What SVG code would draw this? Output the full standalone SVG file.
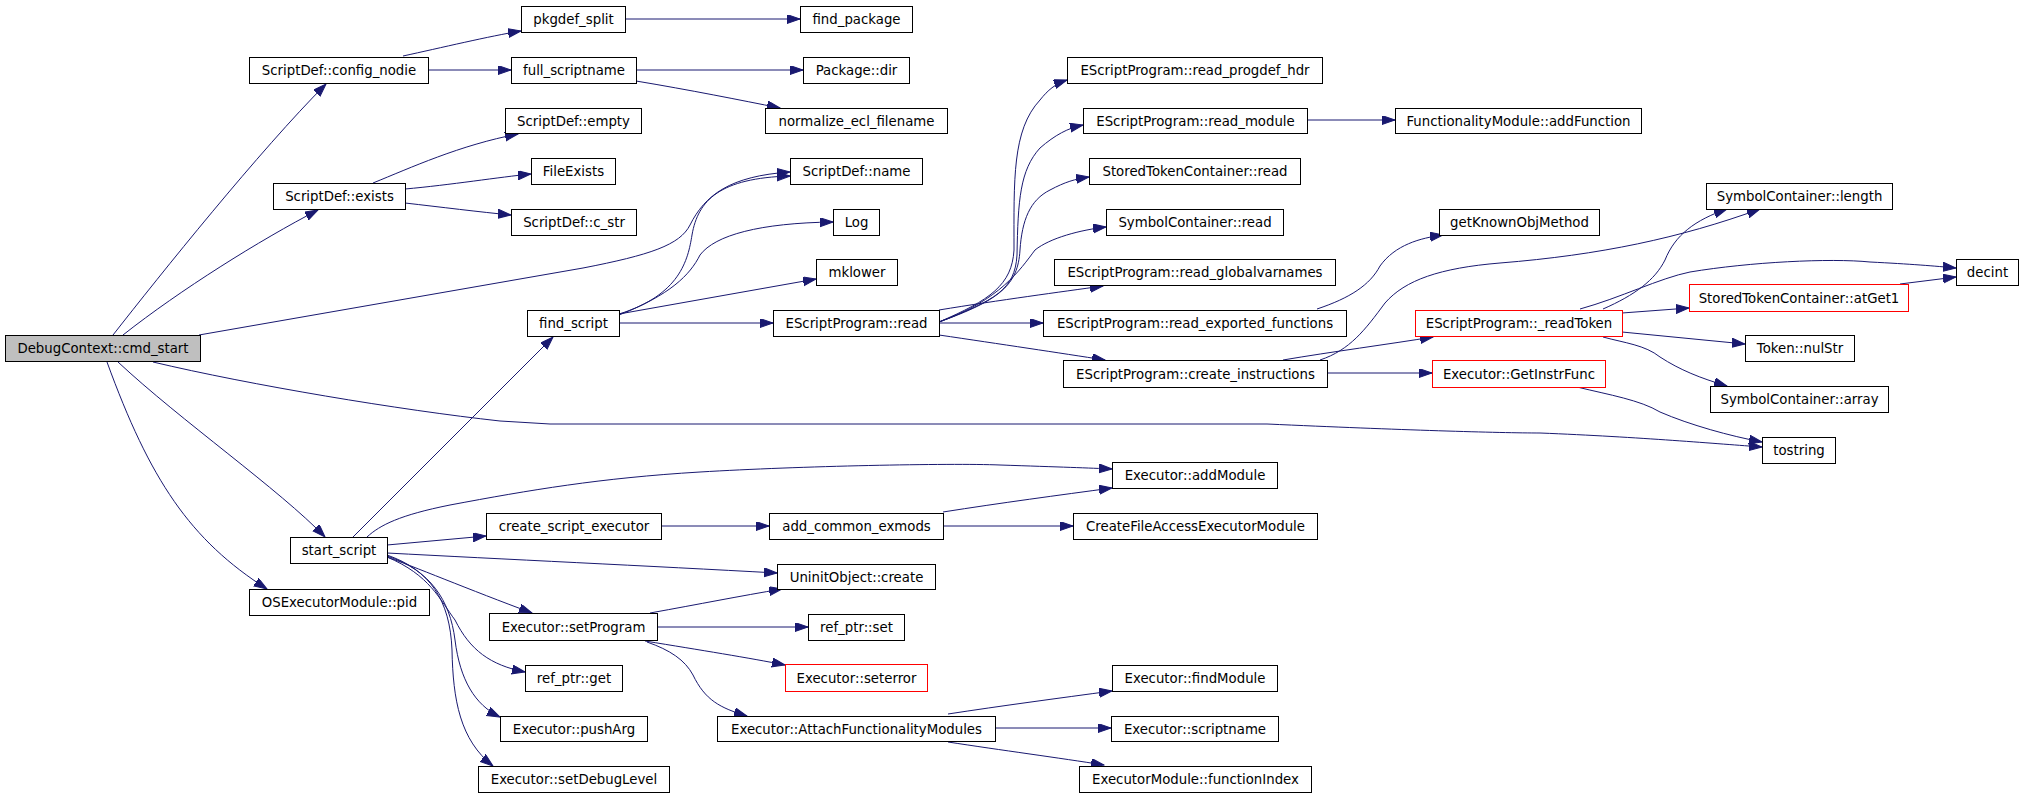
<svg xmlns="http://www.w3.org/2000/svg" width="2037" height="797" viewBox="0 0 2037 797">
<style>
.n rect{fill:#fff;stroke:#000;stroke-width:1}
.r rect{stroke:#f00}
.root rect{fill:#bfbfbf}
.n text{font-family:"DejaVu Sans","Liberation Sans",sans-serif;font-size:13.3px;text-anchor:middle;fill:#000}
.e path{fill:none;stroke:#191970;stroke-width:1;marker-end:url(#ah)}
</style>
<defs>
<marker id="ah" markerUnits="userSpaceOnUse" markerWidth="14" markerHeight="10" refX="13" refY="4.5" orient="auto">
<path d="M0,0 L13,4.5 L0,9 z" fill="#191970" stroke="#191970" stroke-width="1"/>
</marker>
</defs>
<rect width="2037" height="797" fill="#fff"/>
<g id="edges" class="e">
<path d="M113,335 C160,275 260,150 326,84"/>
<path d="M123,335 C180,290 260,240 318,210"/>
<path d="M199,335 L583,268 C650,255 680,245 690,225 C705,195 730,176 790,172"/>
<path d="M118,362 C180,420 280,490 325,537"/>
<path d="M107,362 C150,480 190,540 267,589"/>
<path d="M153,362 C250,385 400,410 500,421 L550,424 L1267,424 C1400,430 1500,433 1540,433 C1640,437 1720,444 1762,447"/>
<path d="M403,56 C440,48 490,36 521,31"/>
<path d="M428,70 L511,70"/>
<path d="M625,19 L800,19"/>
<path d="M636,70 L803,70"/>
<path d="M636,81 C690,90 740,100 780,108"/>
<path d="M373,183 C410,168 460,145 518,134"/>
<path d="M405,189 C450,185 500,177 531,174"/>
<path d="M405,203 C440,207 480,212 511,215"/>
<path d="M619,314 C680,295 688,260 692,235 C698,200 720,178 790,176"/>
<path d="M619,315 C670,295 690,275 700,255 C715,235 760,223 833,222"/>
<path d="M619,314 L816,279"/>
<path d="M619,323 L773,323"/>
<path d="M939,322 C990,300 1012,285 1014,250 C1014,180 1012,130 1040,100 C1048,90 1055,84 1067,80"/>
<path d="M939,322 C995,300 1015,290 1017,255 C1018,200 1020,170 1040,148 C1055,135 1068,128 1083,125"/>
<path d="M939,322 C1000,300 1018,285 1020,250 C1022,220 1030,200 1050,190 C1065,182 1075,179 1089,177"/>
<path d="M939,322 C1000,300 1020,270 1035,250 C1050,238 1080,230 1106,227"/>
<path d="M939,310 C1000,300 1060,292 1103,286"/>
<path d="M939,323 L1043,323"/>
<path d="M939,335 C1000,344 1060,353 1105,360"/>
<path d="M1307,120 L1395,120"/>
<path d="M1317,309 C1350,298 1370,285 1380,266 C1395,245 1420,238 1443,235"/>
<path d="M1320,360 C1350,350 1365,330 1385,303 C1405,280 1440,268 1500,263 C1600,255 1680,238 1760,209"/>
<path d="M1283,360 C1330,352 1390,344 1433,337"/>
<path d="M1327,373 L1432,373"/>
<path d="M1603,309 C1635,295 1655,280 1665,260 C1675,235 1695,220 1727,209"/>
<path d="M1580,309 C1620,298 1660,278 1690,272 C1750,262 1830,258 1870,262 C1910,264 1935,266 1956,268"/>
<path d="M1900,284 L1956,277"/>
<path d="M1622,313 L1689,308"/>
<path d="M1622,332 L1745,344"/>
<path d="M1603,337 C1625,343 1645,345 1660,357 C1680,370 1700,378 1727,386"/>
<path d="M1577,387 C1610,395 1640,400 1660,412 C1690,425 1730,436 1762,442"/>
<path d="M353,537 L553,337"/>
<path d="M367,537 C380,525 400,515 450,505 C530,490 600,478 700,472 C800,466 950,463 1000,465 C1060,467 1090,468 1112,469"/>
<path d="M387,545 L486,536"/>
<path d="M387,553 C500,559 650,566 777,573"/>
<path d="M387,557 C410,565 470,590 532,613"/>
<path d="M387,557 C430,575 440,600 455,620 C470,650 490,665 525,672"/>
<path d="M387,556 C430,570 450,600 455,640 C460,680 475,705 500,717"/>
<path d="M387,555 C430,570 450,600 452,650 C453,700 460,740 493,766"/>
<path d="M661,526 L769,526"/>
<path d="M943,512 C1000,503 1060,495 1112,488"/>
<path d="M943,526 L1073,526"/>
<path d="M650,613 C700,604 740,596 782,589"/>
<path d="M657,627 L808,627"/>
<path d="M645,641 C700,650 750,658 785,665"/>
<path d="M647,642 C670,650 685,660 693,675 C705,700 720,708 747,716"/>
<path d="M948,714 C1000,706 1060,698 1112,691"/>
<path d="M995,728 L1111,728"/>
<path d="M948,742 C1000,750 1060,758 1104,765"/>
</g>
<g id="cmd_start" class="n root"><rect x="5.5" y="335.5" width="195" height="26"/><text x="103" y="353">DebugContext::cmd_start</text></g>
<g id="config_nodie" class="n"><rect x="249.5" y="57.5" width="179" height="26"/><text x="339" y="75">ScriptDef::config_nodie</text></g>
<g id="exists" class="n"><rect x="273.5" y="183.5" width="132" height="26"/><text x="339.5" y="201">ScriptDef::exists</text></g>
<g id="find_script" class="n"><rect x="527.5" y="310.5" width="92" height="26"/><text x="573.5" y="328">find_script</text></g>
<g id="start_script" class="n"><rect x="290.5" y="537.5" width="97" height="26"/><text x="339" y="555">start_script</text></g>
<g id="os_pid" class="n"><rect x="249.5" y="589.5" width="180" height="26"/><text x="339.5" y="607">OSExecutorModule::pid</text></g>
<g id="tostring" class="n"><rect x="1762.5" y="437.5" width="73" height="26"/><text x="1799" y="455">tostring</text></g>
<g id="pkgdef_split" class="n"><rect x="521.5" y="6.5" width="104" height="26"/><text x="573.5" y="24">pkgdef_split</text></g>
<g id="full_scriptname" class="n"><rect x="511.5" y="57.5" width="125" height="26"/><text x="574" y="75">full_scriptname</text></g>
<g id="find_package" class="n"><rect x="800.5" y="6.5" width="112" height="26"/><text x="856.5" y="24">find_package</text></g>
<g id="package_dir" class="n"><rect x="803.5" y="57.5" width="106" height="26"/><text x="856.5" y="75">Package::dir</text></g>
<g id="normalize" class="n"><rect x="765.5" y="108.5" width="182" height="25"/><text x="856.5" y="125.5">normalize_ecl_filename</text></g>
<g id="sd_empty" class="n"><rect x="505.5" y="108.5" width="136" height="25"/><text x="573.5" y="125.5">ScriptDef::empty</text></g>
<g id="fileexists" class="n"><rect x="531.5" y="158.5" width="84" height="26"/><text x="573.5" y="176">FileExists</text></g>
<g id="sd_cstr" class="n"><rect x="511.5" y="209.5" width="125" height="26"/><text x="574" y="227">ScriptDef::c_str</text></g>
<g id="sd_name" class="n"><rect x="790.5" y="158.5" width="132" height="26"/><text x="856.5" y="176">ScriptDef::name</text></g>
<g id="log" class="n"><rect x="833.5" y="209.5" width="46" height="26"/><text x="856.5" y="227">Log</text></g>
<g id="mklower" class="n"><rect x="816.5" y="259.5" width="81" height="26"/><text x="857" y="277">mklower</text></g>
<g id="esp_read" class="n"><rect x="773.5" y="310.5" width="166" height="26"/><text x="856.5" y="328">EScriptProgram::read</text></g>
<g id="read_progdef_hdr" class="n"><rect x="1067.5" y="57.5" width="255" height="26"/><text x="1195" y="75">EScriptProgram::read_progdef_hdr</text></g>
<g id="read_module" class="n"><rect x="1083.5" y="108.5" width="224" height="25"/><text x="1195.5" y="125.5">EScriptProgram::read_module</text></g>
<g id="stc_read" class="n"><rect x="1089.5" y="158.5" width="211" height="26"/><text x="1195" y="176">StoredTokenContainer::read</text></g>
<g id="sc_read" class="n"><rect x="1106.5" y="209.5" width="177" height="26"/><text x="1195" y="227">SymbolContainer::read</text></g>
<g id="read_globalvarnames" class="n"><rect x="1054.5" y="259.5" width="281" height="26"/><text x="1195" y="277">EScriptProgram::read_globalvarnames</text></g>
<g id="read_exported_functions" class="n"><rect x="1043.5" y="310.5" width="303" height="26"/><text x="1195" y="328">EScriptProgram::read_exported_functions</text></g>
<g id="create_instructions" class="n"><rect x="1063.5" y="360.5" width="264" height="27"/><text x="1195.5" y="378.5">EScriptProgram::create_instructions</text></g>
<g id="addFunction" class="n"><rect x="1395.5" y="108.5" width="246" height="25"/><text x="1518.5" y="125.5">FunctionalityModule::addFunction</text></g>
<g id="getKnownObjMethod" class="n"><rect x="1439.5" y="209.5" width="160" height="26"/><text x="1519.5" y="227">getKnownObjMethod</text></g>
<g id="readToken" class="n r"><rect x="1415.5" y="310.5" width="207" height="26"/><text x="1519" y="328">EScriptProgram::_readToken</text></g>
<g id="GetInstrFunc" class="n r"><rect x="1432.5" y="360.5" width="173" height="27"/><text x="1519" y="378.5">Executor::GetInstrFunc</text></g>
<g id="sc_length" class="n"><rect x="1706.5" y="183.5" width="186" height="26"/><text x="1799.5" y="201">SymbolContainer::length</text></g>
<g id="decint" class="n"><rect x="1956.5" y="259.5" width="62" height="26"/><text x="1987.5" y="277">decint</text></g>
<g id="atGet1" class="n r"><rect x="1689.5" y="284.5" width="219" height="27"/><text x="1799" y="302.5">StoredTokenContainer::atGet1</text></g>
<g id="nulStr" class="n"><rect x="1745.5" y="335.5" width="109" height="26"/><text x="1800" y="353">Token::nulStr</text></g>
<g id="sc_array" class="n"><rect x="1710.5" y="386.5" width="178" height="26"/><text x="1799.5" y="404">SymbolContainer::array</text></g>
<g id="create_script_executor" class="n"><rect x="486.5" y="513.5" width="175" height="26"/><text x="574" y="531">create_script_executor</text></g>
<g id="add_common_exmods" class="n"><rect x="769.5" y="513.5" width="174" height="26"/><text x="856.5" y="531">add_common_exmods</text></g>
<g id="addModule" class="n"><rect x="1112.5" y="462.5" width="165" height="26"/><text x="1195" y="480">Executor::addModule</text></g>
<g id="CreateFileAccess" class="n"><rect x="1073.5" y="513.5" width="244" height="26"/><text x="1195.5" y="531">CreateFileAccessExecutorModule</text></g>
<g id="uninit_create" class="n"><rect x="777.5" y="564.5" width="158" height="25"/><text x="856.5" y="581.5">UninitObject::create</text></g>
<g id="setProgram" class="n"><rect x="489.5" y="613.5" width="168" height="27"/><text x="573.5" y="631.5">Executor::setProgram</text></g>
<g id="refptr_set" class="n"><rect x="808.5" y="614.5" width="96" height="26"/><text x="856.5" y="632">ref_ptr::set</text></g>
<g id="seterror" class="n r"><rect x="785.5" y="664.5" width="142" height="27"/><text x="856.5" y="682.5">Executor::seterror</text></g>
<g id="AttachFM" class="n"><rect x="717.5" y="716.5" width="278" height="25"/><text x="856.5" y="733.5">Executor::AttachFunctionalityModules</text></g>
<g id="refptr_get" class="n"><rect x="525.5" y="665.5" width="97" height="26"/><text x="574" y="683">ref_ptr::get</text></g>
<g id="pushArg" class="n"><rect x="500.5" y="716.5" width="147" height="25"/><text x="574" y="733.5">Executor::pushArg</text></g>
<g id="setDebugLevel" class="n"><rect x="478.5" y="766.5" width="191" height="26"/><text x="574" y="784">Executor::setDebugLevel</text></g>
<g id="findModule" class="n"><rect x="1112.5" y="665.5" width="165" height="26"/><text x="1195" y="683">Executor::findModule</text></g>
<g id="scriptname" class="n"><rect x="1111.5" y="716.5" width="167" height="25"/><text x="1195" y="733.5">Executor::scriptname</text></g>
<g id="functionIndex" class="n"><rect x="1079.5" y="766.5" width="232" height="26"/><text x="1195.5" y="784">ExecutorModule::functionIndex</text></g>
</svg>
